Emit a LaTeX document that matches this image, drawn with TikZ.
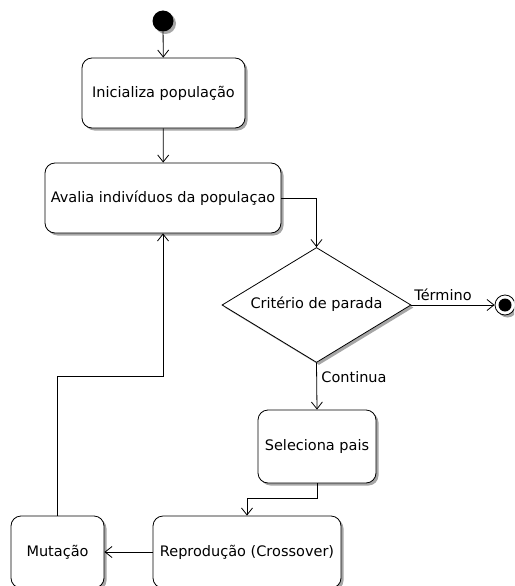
\documentclass[tikz,border=0pt]{standalone}
\usepackage{fontspec}
\setmainfont{DejaVu Sans}
\usetikzlibrary{shapes.geometric,arrows.meta,shadows}
\begin{document}
\begin{tikzpicture}[x=1pt,y=-1pt,
  every node/.style={font=\fontsize{14.5}{17}\selectfont},
  shd/.style={drop shadow={shadow xshift=2.5pt,shadow yshift=-2.5pt,fill=black!35,opacity=1}},
  act/.style={draw,line width=0.8pt,rounded corners=10pt,fill=white,shd,inner sep=0pt},
  dec/.style={draw,diamond,line width=0.8pt,fill=white,shd,inner sep=0pt},
  conn/.style={line width=0.8pt,-{Straight Barb[length=7pt,width=11pt]}},
  lbl/.style={font=\fontsize{14.5}{17}\selectfont}]
\useasboundingbox (0,0) rectangle (514,586);
\clip (0,0) rectangle (514,586);
\node[circle,fill=black,minimum size=21pt,inner sep=0pt,shd] (start) at (163,21) {};
\node[act,minimum width=163pt,minimum height=70pt] (init) at (163.5,93) {Inicializa população};
\node[act,minimum width=236pt,minimum height=70pt] (aval) at (163,198) {Avalia indivíduos da populaçao};
\node[dec,minimum width=189pt,minimum height=115pt] (crit) at (316.5,305) {};
\node (crittxt) at (316.5,304) {Critério de parada};
\node[circle,draw,line width=0.8pt,fill=white,minimum size=20pt,inner sep=0pt,shd] (fim) at (505,305) {};
\node[circle,fill=black,minimum size=13pt,inner sep=0pt] (fimin) at (fim) {};
\node[act,minimum width=118pt,minimum height=73pt] (sel) at (317,446.5) {Seleciona pais};
\node[act,minimum width=188pt,minimum height=72pt] (rep) at (247,552) {Reprodução (Crossover)};
\node[act,minimum width=93pt,minimum height=72pt] (mut) at (57.5,552) {Mutação};
\coordinate (b1) at (317,498);
\coordinate (b2) at (57.5,376);
\draw[conn] (start) -- (init);
\draw[conn] (init) -- (aval);
\draw[conn] (aval.east) -| (crit.north);
\draw[conn] (crit.east) -- node[lbl,pos=0.38,above=1pt] {Término} (fim);
\draw[conn] (crit.south) -- node[lbl,pos=0.3,right=1pt] {Continua} (sel.north);
\draw[conn] (sel.south) -- (b1) -| (rep.north);
\draw[conn] (rep.west) -- (mut.east);
\draw[conn] (mut.north) -- (b2) -| (aval.south);
\end{tikzpicture}
\end{document}
